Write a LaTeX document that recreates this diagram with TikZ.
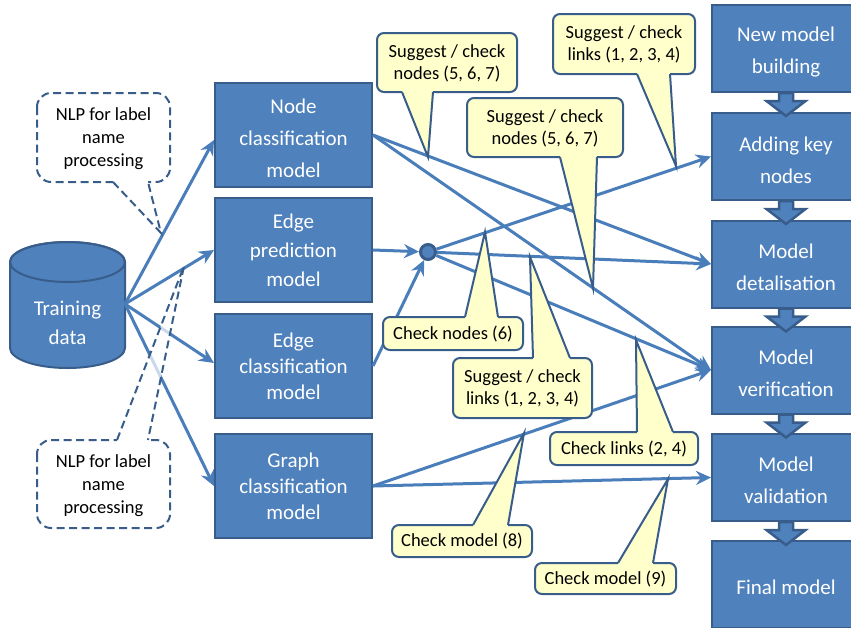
\documentclass[tikz,border=0pt]{standalone}
\usepackage{fontspec}
\setmainfont{Carlito}
\usetikzlibrary{arrows.meta}
\definecolor{boxblue}{HTML}{4F81BD}
\definecolor{boxedge}{HTML}{385D8A}
\definecolor{lineblue}{HTML}{4A7EBB}
\definecolor{callfill}{HTML}{FFFFCC}
\tikzset{
  lbox/.style={draw=boxedge, line width=2pt, fill=boxblue, text=white,
    minimum width=157pt, minimum height=104pt, align=center, inner sep=0pt},
  rbox/.style={draw=boxedge, line width=2pt, fill=boxblue,
    minimum width=148pt, minimum height=87pt, inner sep=0pt},
  btext/.style={text=white, align=center, inner sep=0pt, font=\fontsize{21}{32}\selectfont},
  fA/.style={font=\fontsize{21}{32}\selectfont},
  fB/.style={font=\fontsize{21}{29}\selectfont},
  fC/.style={font=\fontsize{21}{26}\selectfont},
  arr/.style={draw=lineblue, line width=3pt, -{Stealth[length=15pt,width=14pt,inset=5pt]}},
  cb/.style={draw=boxedge, line width=2pt, fill=callfill, line join=miter, miter limit=25},
  cbr/.style={rounded corners=7pt},
  cbfill/.style={fill=callfill},
  cbfillb/.style={fill=callfill},
  nb/.style={draw=boxedge, line width=2pt, dash pattern=on 8pt off 4.5pt, fill=white, line join=miter, miter limit=25},
  nbr/.style={rounded corners=14pt},
  nbfill/.style={fill=white, fill opacity=0.7},
  nbfillb/.style={fill=white},
  ctext/.style={font=\fontsize{18.5}{22}\selectfont, align=center, inner sep=0pt, text=black},
  ntext/.style={font=\fontsize{18.5}{23}\selectfont, align=center, inner sep=0pt, text=black},
  bla/.style={fill=boxblue, draw=boxedge, line width=2.5pt, line join=miter},
  junction/.style={circle, fill=boxblue, draw=boxedge, line width=3pt, minimum size=15pt, inner sep=0pt},
}
% #1 style, #2 corner1, #3 corner2, #4 base x1, #5 base x2, #6 edge y, #7 inner y, #8 tip
\newcommand\callshape[8]{%
  \draw[#1,#1r] (#2) rectangle (#3);
  \fill[#1fill] (#4,#6) -- (#8) -- (#5,#6) -- cycle;
  \fill[#1fillb] (#4,{#6+(#6-#7)/4}) rectangle (#5,#7);
  \draw[#1,fill=none] (#4,#6) -- (#8) -- (#5,#6);
}
\newcommand\blockarrow[1]{%
  \draw[bla] (#1.south) ++(-7,0) -- ++(0,8) -- ++(-12.5,0) -- ++(19.5,15)
    -- ++(19.5,-15) -- ++(-12.5,0) -- ++(0,-8) -- cycle;
}
\begin{document}
\begin{tikzpicture}[x=1pt,y=-1pt]
\useasboundingbox (0,0) rectangle (851,627);
\clip (0,0) rectangle (851,627);

% Training data cylinder
\draw[fill=boxblue, draw=boxedge, line width=2pt] (10,262) -- (10,348)
  arc[start angle=180, end angle=0, x radius=57.5, y radius=20] -- (125,262)
  arc[start angle=0, end angle=-180, x radius=57.5, y radius=20] -- cycle;
\draw[draw=boxedge, line width=2pt] (67.5,262) ellipse [x radius=57.5, y radius=20];
\node[text=white, align=center, inner sep=0pt, font=\fontsize{21}{29}\selectfont] (td) at (67.5,323) {Training\\data};
\coordinate (tdE) at (125,304);

% left column
\node[lbox] (nc) at (293.5,135) {};
\node[btext] (nct) at ([yshift=-3.5pt]nc.center) {Node\\classification\\model};
\node[lbox, fB] (ep) at (293.5,250) {Edge\\prediction\\model};
\node[lbox, fC] (ec) at (293.5,366) {Edge\\classification\\model};
\node[lbox, fC] (gc) at (293.5,486) {Graph\\classification\\model};

% right column
\node[rbox] (nm) at (786,48.5) {};
\node[rbox] (ak) at (786,156.5) {};
\node[rbox] (dt) at (786,264) {};
\node[rbox] (vf) at (786,370) {};
\node[rbox] (vl) at (786,477.5) {};
\node[rbox] (fm) at (786,584.5) {};
\node[btext] (nmt) at ([yshift=-4pt]nm.center) {New model\\building};
\node[btext] (akt) at ([yshift=-3.5pt]ak.center) {Adding key\\nodes};
\node[btext] (dtt) at ([yshift=-3.5pt]dt.center) {Model\\detalisation};
\node[btext] (vft) at ([yshift=-3.5pt]vf.center) {Model\\verification};
\node[btext] (vlt) at ([yshift=-3pt]vl.center) {Model\\validation};
\node[btext] (fmt) at ([yshift=-3pt]fm.center) {Final model};

\blockarrow{nm}
\blockarrow{ak}
\blockarrow{dt}
\blockarrow{vf}
\blockarrow{vl}

% junction
\node[junction] (j) at (428,252) {};

% connectors
\draw[arr] (tdE) -- ([yshift=-5pt]nc.west);
\draw[arr] (tdE) -- (ep.west);
\draw[arr] (tdE) -- ([yshift=3pt]ec.west);
\draw[arr] (tdE) -- (gc.west);
\draw[arr] (nc.east) -- (dt.west);
\draw[arr] (nc.east) -- (vf.west);
\draw[arr] (ep.east) -- (j);
\draw[arr] (ec.east) -- (j);
\draw[arr] (j) -- (ak.west);
\draw[arr] (j) -- (dt.west);
\draw[arr] (j) -- (vf.west);
\draw[arr] (gc.east) -- (vf.west);
\draw[arr] (gc.east) -- (vl.west);

% callouts
\callshape{cb}{377,33}{517,92}{402}{433}{92}{86}{428,157}
\node[ctext] (cA) at (447,63) {Suggest / check\\nodes (5, 6, 7)};

\callshape{cb}{467,98}{623,157}{560}{597}{157}{151}{593,288}
\node[ctext] (cB) at (545,128) {Suggest / check\\nodes (5, 6, 7)};

\callshape{cb}{553,14}{695,74}{637}{670}{74}{68}{676,166}
\node[ctext] (cC) at (624,44.5) {Suggest / check\\links (1, 2, 3, 4)};

\callshape{cb}{383,317}{523,350}{465}{498}{317}{323}{485,232}
\node[ctext] (cD) at (453,334) {Check nodes (6)};

\callshape{cb}{453,358}{592,418}{533}{570}{358}{364}{530,257}
\node[ctext] (cE) at (522.5,388.5) {Suggest / check\\links (1, 2, 3, 4)};

\callshape{cb}{550,432}{698,465}{637}{673}{432}{438}{636,340}
\node[ctext] (cF) at (624,449) {Check links (2, 4)};

\callshape{cb}{392,525}{532,557}{473}{508}{525}{531}{524,433}
\node[ctext] (cG) at (462,541.5) {Check model (8)};

\callshape{cb}{535,563}{676,594}{618}{653}{563}{569}{668,479}
\node[ctext] (cH) at (605.5,579) {Check model (9)};

\callshape{nb}{37,93}{170,182}{113}{148}{182}{176}{161,233}
\node[ntext] (n1) at (103.5,139) {NLP for label\\name\\processing};

\callshape{nb}{37,440}{170,528}{117}{148}{440}{446}{184,266}
\node[ntext] (n2) at (103.5,485.5) {NLP for label\\name\\processing};
\end{tikzpicture}
\end{document}
